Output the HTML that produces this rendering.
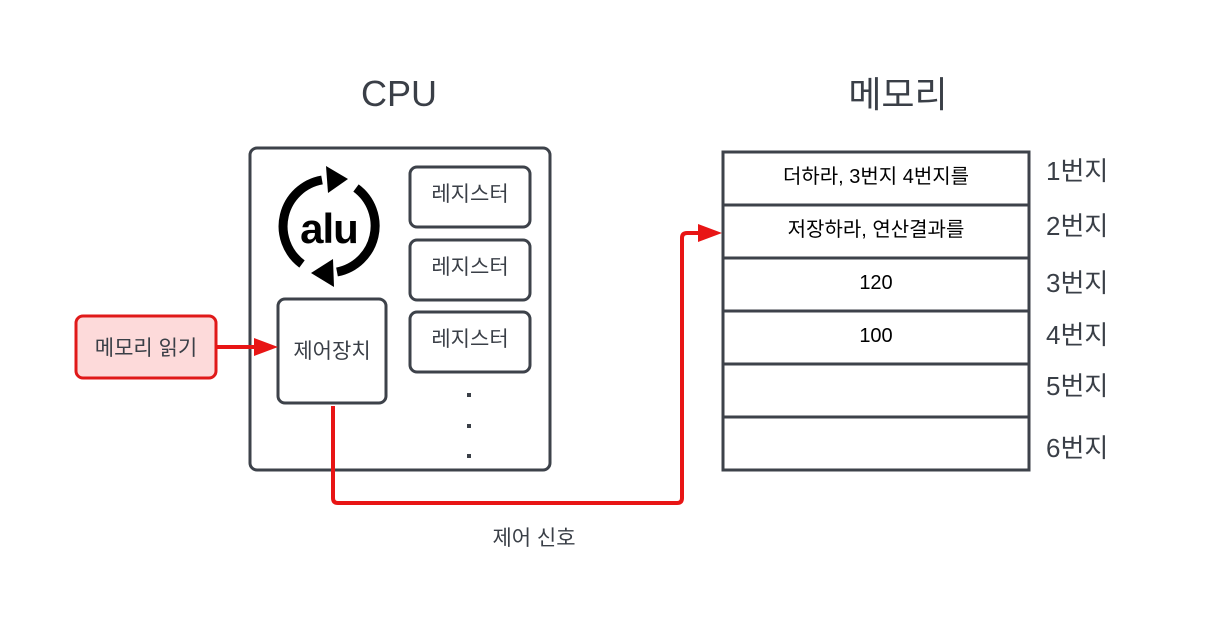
<!DOCTYPE html>
<html><head><meta charset="utf-8"><style>
html,body{margin:0;padding:0;background:#fff;}
svg{display:block;}
text{font-family:"Liberation Sans","Noto Sans CJK KR",sans-serif;}
</style></head><body>
<svg width="1207" height="619" viewBox="0 0 1207 619" xmlns="http://www.w3.org/2000/svg">
<rect width="1207" height="619" fill="#fff"/>
<text x="399" y="106" font-size="36" fill="#3a3f47" text-anchor="middle">CPU</text>
<text x="898" y="107" font-size="36" fill="#3a3f47" text-anchor="middle">메모리</text>

<rect x="250" y="148" width="300" height="322" rx="7" fill="#fff" stroke="#3d424a" stroke-width="3"/>
<g fill="#fff" stroke="#3d424a" stroke-width="3">
<rect x="410" y="167" width="120" height="60" rx="7"/>
<rect x="410" y="240" width="120" height="60" rx="7"/>
<rect x="410" y="312" width="120" height="60" rx="7"/>
<rect x="278" y="299" width="108" height="104" rx="7"/>
</g>
<g font-size="21" fill="#3a3f47" text-anchor="middle">
<text x="470" y="201">레지스터</text>
<text x="470" y="274">레지스터</text>
<text x="470" y="346">레지스터</text>
<text x="332" y="358">제어장치</text>
</g>
<g fill="#3a3f47">
<rect x="467" y="393" width="4" height="4"/>
<rect x="467" y="424" width="4" height="4"/>
<rect x="467" y="454" width="4" height="4"/>
</g>

<!-- ALU -->
<g fill="none" stroke="#000" stroke-width="9">
<path d="M302 264 A47 47 0 0 1 322 180"/>
<path d="M356 188 A47 47 0 0 1 337 272"/>
</g>
<polygon points="348,179 326,166 328,193" fill="#000"/>
<polygon points="311,273 333,259 334,287" fill="#000"/>
<text x="329" y="243" font-size="42" font-weight="bold" fill="#000" text-anchor="middle" letter-spacing="-1">alu</text>

<!-- memory read -->
<rect x="76" y="316" width="140" height="62" rx="7" fill="#fddada" stroke="#e01919" stroke-width="3"/>
<text x="146" y="355" font-size="21" fill="#3a3f47" text-anchor="middle">메모리 읽기</text>
<line x1="216" y1="347" x2="256" y2="347" stroke="#e81515" stroke-width="4"/>
<polygon points="278,347 254,338 254,356" fill="#e81515"/>

<!-- control signal -->
<path d="M333 406 V498 Q333 503 338 503 H677 Q682 503 682 498 V238 Q682 233 687 233 H702" fill="none" stroke="#e81515" stroke-width="4"/>
<polygon points="722,233 698,224 698,242" fill="#e81515"/>
<text x="534" y="545" font-size="21" fill="#3a3f47" text-anchor="middle">제어 신호</text>

<!-- memory -->
<rect x="723" y="152" width="306" height="318" fill="#fff" stroke="#3d424a" stroke-width="3"/>
<g stroke="#3d424a" stroke-width="3">
<line x1="723" y1="205" x2="1029" y2="205"/>
<line x1="723" y1="258" x2="1029" y2="258"/>
<line x1="723" y1="311" x2="1029" y2="311"/>
<line x1="723" y1="364" x2="1029" y2="364"/>
<line x1="723" y1="417" x2="1029" y2="417"/>
</g>
<g font-size="20" fill="#000" text-anchor="middle">
<text x="876" y="183">더하라, 3번지 4번지를</text>
<text x="876" y="236">저장하라, 연산결과를</text>
<text x="876" y="289">120</text>
<text x="876" y="342">100</text>
</g>
<g font-size="26" fill="#3a3f47">
<text x="1046" y="180">1번지</text>
<text x="1046" y="235">2번지</text>
<text x="1046" y="292">3번지</text>
<text x="1046" y="344">4번지</text>
<text x="1046" y="395">5번지</text>
<text x="1046" y="457">6번지</text>
</g>
</svg>
</body></html>
